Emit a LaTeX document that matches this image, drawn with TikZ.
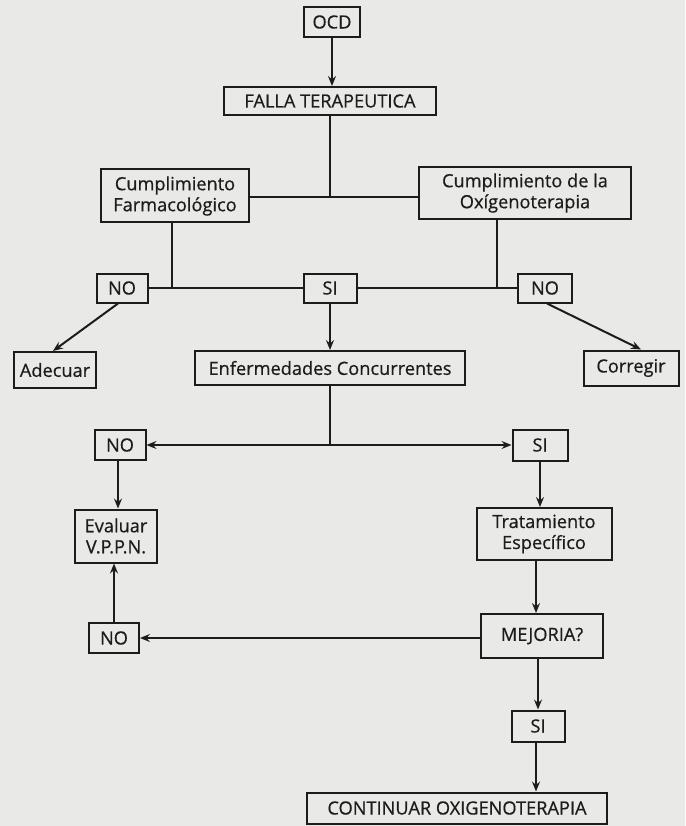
\documentclass[tikz,border=0pt]{standalone}
\usepackage{fontspec}
\setmainfont{Open Sans}[BoldFont={Open Sans},BoldFeatures={FakeBold=0.6}]
\usepackage{xcolor}
\definecolor{papel}{RGB}{233,234,231}
\definecolor{tinta}{RGB}{28,28,28}
\usepackage{tikz}
\usetikzlibrary{arrows.meta, positioning}

\begin{document}
\begin{tikzpicture}[x=1pt,y=-1pt,line width=2pt,draw=tinta,
  caja/.style={draw=tinta,line width=2pt,inner sep=0pt,align=center,text=tinta,
    font=\fontsize{18.2}{21}\selectfont\bfseries},
  flecha/.style={-{Stealth[length=10pt,width=8pt,inset=3.5pt]}}]
\fill[papel] (0,0) rectangle (685,826);
\useasboundingbox (0,0) rectangle (685,826);
% fila superior
\node[caja,minimum width=56pt,minimum height=30pt] (ocd) at (332,22) {OCD};
\node[caja,minimum width=212pt,minimum height=28pt] (falla) at (330,101) {FALLA TERAPEUTICA};
\node[caja,minimum width=148pt,minimum height=53pt] (farma) at (175,196) {Cumplimiento\\Farmacológico};
\node[caja,minimum width=212pt,minimum height=52pt] (oxig) at (525,193) {Cumplimiento de la\\Oxígenoterapia};
\coordinate (junta1) at (330,197);
% primera decision
\node[caja,minimum width=51pt,minimum height=29pt] (noA) at (122,288) {NO};
\node[caja,minimum width=53pt,minimum height=29pt] (siA) at (330,288) {SI};
\node[caja,minimum width=54pt,minimum height=29pt] (noB) at (545,288) {NO};
\node[caja,minimum width=82pt,minimum height=36pt] (adecuar) at (55,370) {Adecuar};
\node[caja,minimum width=270pt,minimum height=34pt] (enf) at (330,368) {Enfermedades Concurrentes};
\node[caja,minimum width=95pt,minimum height=35pt] (corregir) at (631,368) {Corregir};
\coordinate (junta2) at (330,445);
% segunda decision
\node[caja,minimum width=51pt,minimum height=30pt] (noC) at (120,445) {NO};
\node[caja,minimum width=55pt,minimum height=31pt] (siC) at (540,445) {SI};
\node[caja,minimum width=82pt,minimum height=53pt] (evaluar) at (116,536) {Evaluar\\V.P.P.N.};
\node[caja,minimum width=135pt,minimum height=52pt] (trat) at (544,534) {Tratamiento\\Específico};
\node[caja,minimum width=122pt,minimum height=44pt] (mejoria) at (542,636) {MEJORIA?};
\node[caja,minimum width=50pt,minimum height=30pt] (noD) at (114,638) {NO};
\node[caja,minimum width=53pt,minimum height=31pt] (siD) at (538,726) {SI};
\node[caja,minimum width=300pt,minimum height=31pt] (continuar) at (457,808) {CONTINUAR OXIGENOTERAPIA};

\draw[flecha] (ocd.south) -- (ocd.south |- falla.north);
\draw (falla.south) -- (junta1);
\draw (farma.east |- junta1) -- (oxig.west |- junta1);
\draw ([xshift=-3pt]farma.south) -- ([xshift=-3pt]farma.south |- noA.east);
\draw ([xshift=-28pt]oxig.south) -- ([xshift=-28pt]oxig.south |- noB.west);
\draw (noA.east) -- (siA.west);
\draw (siA.east) -- (noB.west);
\draw[flecha] ([xshift=-4pt]noA.south) -- ([xshift=-2pt]adecuar.north);
\draw[flecha] (siA.south) -- (siA.south |- enf.north);
\draw[flecha] ([xshift=2pt]noB.south) -- ([xshift=10pt]corregir.north);
\draw (enf.south) -- (junta2);
\draw[flecha] (junta2) -- (junta2 -| noC.east);
\draw[flecha] (junta2) -- (junta2 -| siC.west);
\draw[flecha] ([xshift=-2pt]noC.south) -- ([xshift=-2pt]noC.south |- evaluar.north);
\draw[flecha] (siC.south) -- (siC.south |- trat.north);
\draw[flecha] ([xshift=-8pt]trat.south) -- ([xshift=-8pt]trat.south |- mejoria.north);
\draw[flecha] (mejoria.west |- noD.east) -- (noD.east);
\draw[flecha] (noD.north) -- (noD.north |- evaluar.south);
\draw[flecha] (siD.north |- mejoria.south) -- (siD.north);
\draw[flecha] ([xshift=-2pt]siD.south) -- ([xshift=-2pt]siD.south |- continuar.north);
\end{tikzpicture}
\end{document}
